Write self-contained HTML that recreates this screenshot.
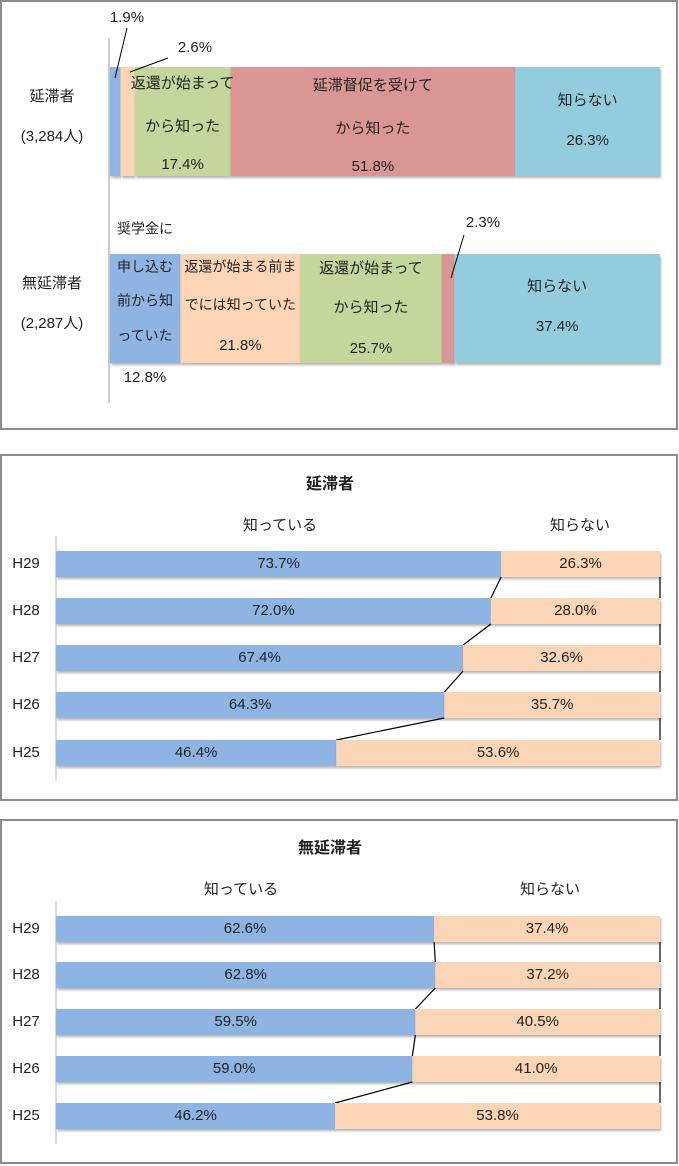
<!DOCTYPE html>
<html><head><meta charset="utf-8"><style>
html,body{margin:0;padding:0;background:#fff;width:679px;height:1166px;overflow:hidden}
svg{display:block;font-family:"Liberation Sans","Noto Sans CJK JP",sans-serif}
</style></head><body>
<svg id="s" width="679" height="1166">
<defs><filter id="sh" x="-5%" y="-20%" width="110%" height="150%"><feDropShadow dx="1" dy="2" stdDeviation="1.2" flood-color="#000" flood-opacity="0.3"/></filter></defs>
<rect x="1" y="1" width="676" height="428" fill="#fff" stroke="#8c8c8c" stroke-width="2"/>
<rect x="1" y="455" width="676" height="345" fill="#fff" stroke="#8c8c8c" stroke-width="2"/>
<rect x="1" y="820" width="676" height="343" fill="#fff" stroke="#8c8c8c" stroke-width="2"/>
<g id="g1"></g><g id="g2"></g><g id="g3"></g>
</svg>
<script>
const NS="http://www.w3.org/2000/svg";
const topGroups=["延滞者","無延滞者"];
const topCounts=["(3,284人)","(2,287人)"];
const topDelinq=[1.9,2.6,17.4,51.8,26.3];
const topNonDelinq=[12.8,21.8,25.7,2.3,37.4];
const years=["H29","H28","H27","H26","H25"];
const knowDelinq=[73.7,72.0,67.4,64.3,46.4];
const knowNon=[62.6,62.8,59.5,59.0,46.2];
const colors=["#8eb4e3","#fbd5b5","#c3d69b","#d99694","#93cddd"];

function el(p,t,a){const e=document.createElementNS(NS,t);for(const k in a)e.setAttribute(k,a[k]);p.appendChild(e);return e;}
function txt(p,x,y,s,o){const e=el(p,"text",Object.assign({x:x,y:y,"font-size":15,fill:"#222","text-anchor":"middle","dominant-baseline":"middle"},o||{}));e.textContent=s;return e;}

const g1=document.getElementById("g1");
const X0=110,W=550;
function sx(v){return X0+v/100*W;}
el(g1,"line",{x1:109,y1:38,x2:109,y2:403,stroke:"#999","stroke-width":1});
const rowsTop=[{d:topDelinq,y:67,h:109},{d:topNonDelinq,y:254,h:109}];
const segNames=["before-apply","before-repay","after-repay-start","after-reminder","unknown"];
rowsTop.forEach((r,ri)=>{
  let c=0;
  r.d.forEach((v,i)=>{
    const rc=el(g1,"rect",{x:sx(c),y:r.y,width:sx(c+v)-sx(c),height:r.h,fill:colors[i],filter:"url(#sh)"});
    
    
    c+=v;
  });
  const t1=txt(g1,52,r.y+30,topGroups[ri]);
  
  const t2=txt(g1,52,r.y+70,topCounts[ri]);
  
});
function cen(d,i){let c=0;for(let k=0;k<i;k++)c+=d[k];return (sx(c)+sx(c+d[i]))/2;}
let L=[];
L.push(txt(g1,127,18,topDelinq[0].toFixed(1)+"%"));
el(g1,"line",{x1:127,y1:28,x2:115,y2:78,stroke:"#000"});
L.push(txt(g1,195,48,topDelinq[1].toFixed(1)+"%"));
el(g1,"line",{x1:168,y1:58,x2:130,y2:72,stroke:"#000"});
let cx=cen(topDelinq,2);
L.push(txt(g1,cx,84,"返還が始まって"));L.push(txt(g1,cx,127,"から知った"));L.push(txt(g1,cx,165,topDelinq[2].toFixed(1)+"%"));
cx=cen(topDelinq,3);
L.push(txt(g1,cx,86,"延滞督促を受けて"));L.push(txt(g1,cx,129,"から知った"));L.push(txt(g1,cx,167,topDelinq[3].toFixed(1)+"%"));
cx=cen(topDelinq,4);
L.push(txt(g1,cx,101,"知らない"));L.push(txt(g1,cx,141,topDelinq[4].toFixed(1)+"%"));
cx=cen(topNonDelinq,0);
L.push(txt(g1,145,230,"奨学金に",{"font-size":14}));L.push(txt(g1,145,268,"申し込む",{"font-size":14}));
L.push(txt(g1,145,302,"前から知",{"font-size":14}));L.push(txt(g1,145,337,"っていた",{"font-size":14}));
L.push(txt(g1,145,378,topNonDelinq[0].toFixed(1)+"%"));
cx=cen(topNonDelinq,1);
L.push(txt(g1,cx,268,"返還が始まる前ま",{"font-size":14}));L.push(txt(g1,cx,306,"でには知っていた",{"font-size":14}));L.push(txt(g1,cx,346,topNonDelinq[1].toFixed(1)+"%"));
cx=cen(topNonDelinq,2);
L.push(txt(g1,cx,269,"返還が始まって"));L.push(txt(g1,cx,308,"から知った"));L.push(txt(g1,cx,349,topNonDelinq[2].toFixed(1)+"%"));
L.push(txt(g1,483,223,topNonDelinq[3].toFixed(1)+"%"));
el(g1,"line",{x1:464,y1:235,x2:451,y2:278,stroke:"#000"});
cx=cen(topNonDelinq,4);
L.push(txt(g1,cx,287,"知らない"));L.push(txt(g1,cx,327,topNonDelinq[4].toFixed(1)+"%"));
L.forEach(e=>{});

function yearChart(g,title,know,top,ys,lx1,lx2){
  const x0=56,w=604;
  const f=v=>x0+v/100*w;
  const h=26;
  const tt=txt(g,330,top,title,{"font-weight":"bold","font-size":16});
  
  const l1=txt(g,lx1,top+41,"知っている");
  
  const l2=txt(g,lx2,top+41,"知らない");
  
  el(g,"line",{x1:56,y1:ys[0]-28,x2:56,y2:ys[4]+28,stroke:"#bbb"});
  know.forEach((v,i)=>{
    const y=ys[i]-h/2;
    const a=el(g,"rect",{x:x0,y:y,width:f(v)-x0,height:h,fill:colors[0],filter:"url(#sh)"});
    
    
    const b=el(g,"rect",{x:f(v),y:y,width:f(100)-f(v),height:h,fill:colors[1],filter:"url(#sh)"});
    
    
    const t=txt(g,(x0+f(v))/2,ys[i],v.toFixed(1)+"%");
    
    const t2=txt(g,(f(v)+f(100))/2,ys[i],(100-v).toFixed(1)+"%");
    
    const yl=txt(g,26,ys[i],years[i]);
    
    if(i<know.length-1){
      const s=el(g,"line",{x1:f(v),y1:ys[i]+h/2,x2:f(know[i+1]),y2:ys[i+1]-h/2,stroke:"#000","stroke-width":1.2});
      
      const s2=el(g,"line",{x1:f(100),y1:ys[i]+h/2,x2:f(100),y2:ys[i+1]-h/2,stroke:"#000","stroke-width":1.2});
      
    }
  });
}
yearChart(document.getElementById("g2"),"延滞者",knowDelinq,485,[564,611,658,705,753],280,580);
yearChart(document.getElementById("g3"),"無延滞者",knowNon,849,[929,975,1022,1069,1116],241,550);
</script>
</body></html>
